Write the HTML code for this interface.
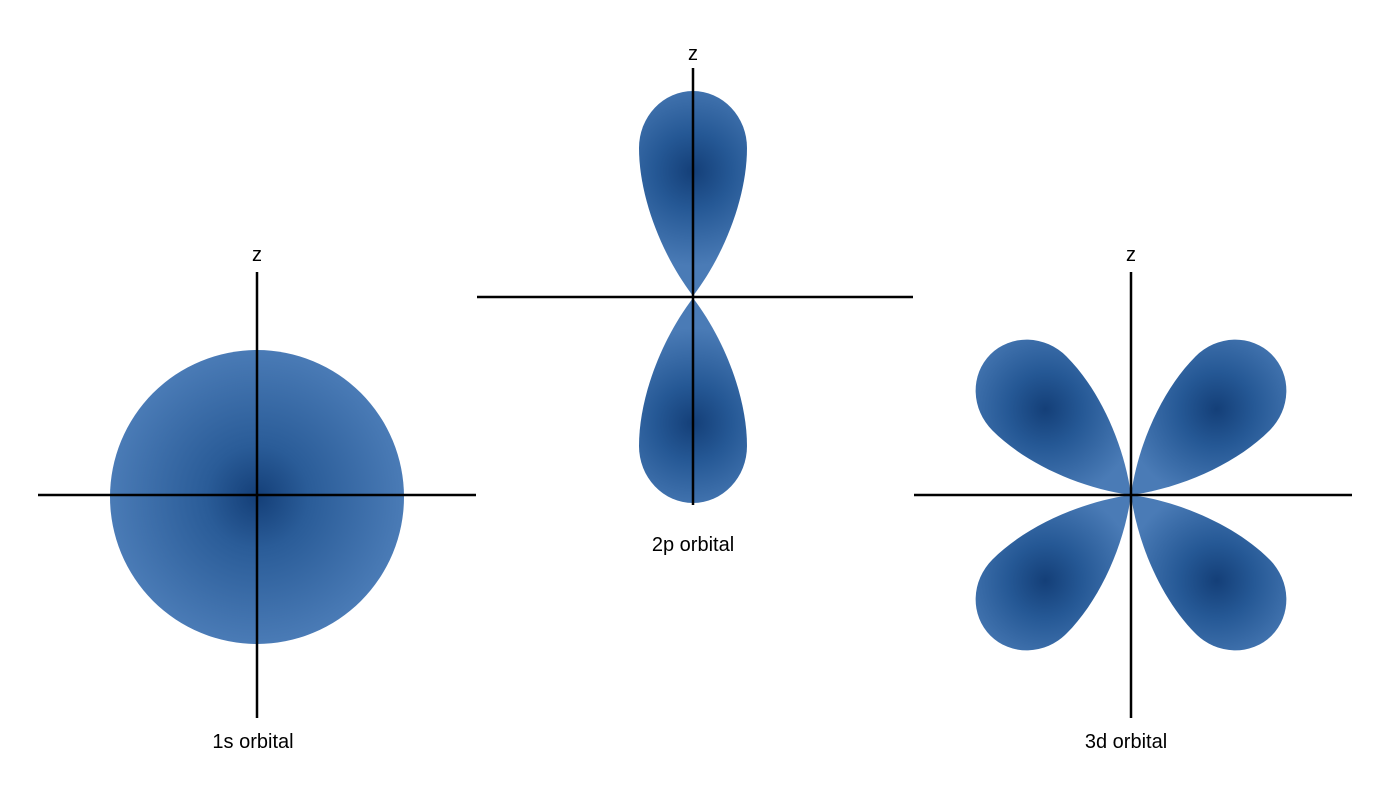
<!DOCTYPE html>
<html><head><meta charset="utf-8"><style>
html,body{margin:0;padding:0;background:#fff;}
svg{display:block;}
text{font-family:"Liberation Sans",sans-serif;font-size:20px;fill:#000;}
</style></head><body>
<svg width="1375" height="788" viewBox="0 0 1375 788">
<defs>
<radialGradient id="gs" cx="257" cy="497" r="147" gradientUnits="userSpaceOnUse">
<stop offset="0" stop-color="#143f78"/><stop offset="0.35" stop-color="#2a5c98"/><stop offset="1" stop-color="#4a7bb6"/>
</radialGradient>
<radialGradient id="gl" cx="0" cy="-125" r="95" gradientUnits="userSpaceOnUse">
<stop offset="0" stop-color="#143f78"/><stop offset="0.4" stop-color="#255895"/><stop offset="1" stop-color="#4a7bb6"/>
</radialGradient>
<path id="lobe" d="M0,0 C-32,-42 -54,-100 -54,-148 A54,57 0 0 1 54,-148 C54,-100 32,-42 0,0 Z" fill="url(#gl)"/>
</defs>

<g>
<circle cx="257" cy="497" r="147" fill="url(#gs)"/>
<line x1="38" y1="495" x2="476" y2="495" stroke="#000" stroke-width="2.5"/>
<line x1="257" y1="272" x2="257" y2="718" stroke="#000" stroke-width="2.5"/>
<text x="257" y="261" text-anchor="middle">z</text>
<text x="253" y="748" text-anchor="middle">1s orbital</text>
</g>

<g>
<use href="#lobe" transform="translate(693,296)"/>
<use href="#lobe" transform="translate(693,298) scale(1,-1)"/>
<line x1="477" y1="297" x2="913" y2="297" stroke="#000" stroke-width="2.5"/>
<line x1="693" y1="68" x2="693" y2="505" stroke="#000" stroke-width="2.5"/>
<text x="693" y="60" text-anchor="middle">z</text>
<text x="693" y="551" text-anchor="middle">2p orbital</text>
</g>

<g>
<use href="#lobe" transform="translate(1131,495) rotate(-45) scale(0.97)"/>
<use href="#lobe" transform="translate(1131,495) rotate(45) scale(0.97)"/>
<use href="#lobe" transform="translate(1131,495) rotate(-135) scale(0.97)"/>
<use href="#lobe" transform="translate(1131,495) rotate(135) scale(0.97)"/>
<line x1="914" y1="495" x2="1352" y2="495" stroke="#000" stroke-width="2.5"/>
<line x1="1131" y1="272" x2="1131" y2="718" stroke="#000" stroke-width="2.5"/>
<text x="1131" y="261" text-anchor="middle">z</text>
<text x="1126" y="748" text-anchor="middle">3d orbital</text>
</g>
</svg>
</body></html>
